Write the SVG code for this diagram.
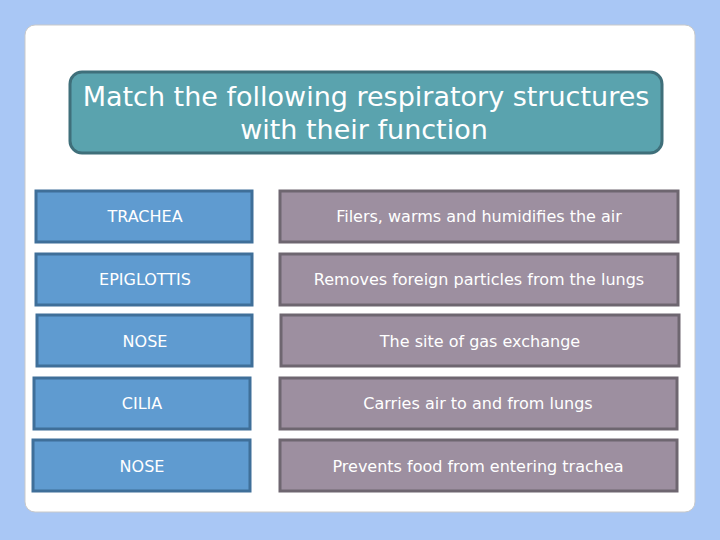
<svg xmlns="http://www.w3.org/2000/svg" width="720" height="540" viewBox="0 0 720 540">
<style>
.l{fill:#5f9bd0;stroke:#3f6f99;stroke-width:3}
.r{fill:#9d8fa0;stroke:#6e6670;stroke-width:3}
text{font-family:"DejaVu Sans",sans-serif;fill:#fff;text-anchor:middle;font-size:16px}
</style>
<rect width="720" height="540" fill="#a9c7f5"/>
<rect x="25" y="25" width="670" height="487" rx="10" fill="#fff" stroke="#c9c9c9"/>
<g id="title"><rect x="70" y="72" width="592" height="81" rx="12" fill="#5aa3ae" stroke="#3f6f7a" stroke-width="3"/>
<text x="366" y="106" style="font-size:27px">Match the following respiratory structures</text>
<text x="364" y="139" style="font-size:27px">with their function</text></g>
<g id="n1"><rect class="l" x="36" y="191" width="216" height="51"/><text x="145" y="222">TRACHEA</text></g>
<g id="n2"><rect class="l" x="36" y="254" width="216" height="51"/><text x="145" y="285">EPIGLOTTIS</text></g>
<g id="n3"><rect class="l" x="37" y="315" width="215" height="51"/><text x="145" y="347">NOSE</text></g>
<g id="n4"><rect class="l" x="34" y="378" width="216" height="51"/><text x="142" y="409">CILIA</text></g>
<g id="n5"><rect class="l" x="33" y="440" width="217" height="51"/><text x="142" y="472">NOSE</text></g>
<g id="f1"><rect class="r" x="280" y="191" width="398" height="51"/><text x="479" y="222">Filers, warms and humidifies the air</text></g>
<g id="f2"><rect class="r" x="280" y="254" width="398" height="51"/><text x="479" y="285">Removes foreign particles from the lungs</text></g>
<g id="f3"><rect class="r" x="281" y="315" width="398" height="51"/><text x="480" y="347">The site of gas exchange</text></g>
<g id="f4"><rect class="r" x="280" y="378" width="397" height="51"/><text x="478" y="409">Carries air to and from lungs</text></g>
<g id="f5"><rect class="r" x="280" y="440" width="397" height="51"/><text x="478" y="472">Prevents food from entering trachea</text></g>
<g id="connectors"/>
</svg>
